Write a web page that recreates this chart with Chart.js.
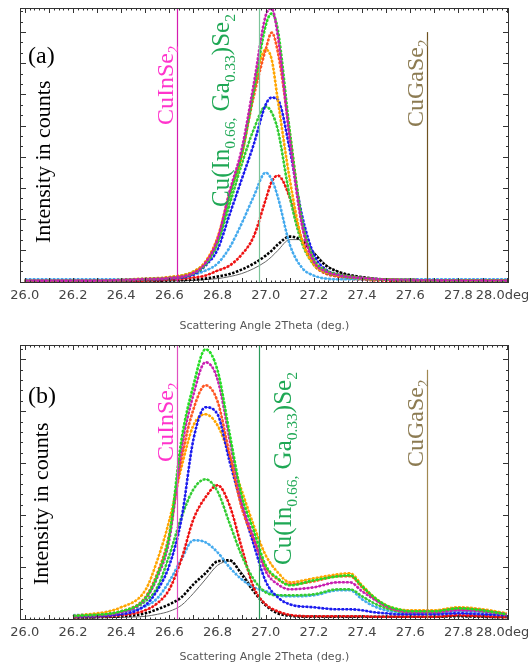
<!DOCTYPE html>
<html>
<head>
<meta charset="utf-8">
<script src="https://cdn.jsdelivr.net/npm/chart.js@4.4.1/dist/chart.umd.min.js"></script>
<style>
  html, body { margin: 0; padding: 0; background: #fff; }
  #wrap { position: relative; width: 528px; height: 666px; }
  #chartA { position: absolute; left: 0; top: 0; }
  #chartB { position: absolute; left: 0; top: 334px; }
</style>
</head>
<body>
<div id="wrap">
  <canvas id="chartA" width="528" height="334"></canvas>
  <canvas id="chartB" width="528" height="332"></canvas>
</div>
<script>
// --- data (intensity in arbitrary units) ---
const xTicks = [26.0, 26.2, 26.4, 26.6, 26.8, 27.0, 27.2, 27.4, 27.6, 27.8, 28.0];

// reference positions: CuInSe2, Cu(In0.66,Ga0.33)Se2, CuGaSe2
const refPositions = [26.63, 26.972, 27.67];
const refGaTop = 249.5;

// panel (a)
const xA = [26.0, 26.3, 26.5, 26.6, 26.7, 26.75, 26.8, 26.85, 26.9, 26.95, 27.0, 27.025, 27.05, 27.1, 27.15, 27.2, 27.25, 27.3, 27.35, 27.4, 27.5, 27.6, 28.0];
const magentaA   = [1, 1, 2.5, 3.5, 8.5, 18.5, 42, 90, 132, 197, 266, 273, 246, 142, 57, 20, 10, 6.5, 4.5, 3.5, 2, 1.5, 1];
const greenTopA  = [1, 1, 2.5, 3.5, 8, 17, 39, 85, 127, 190, 256, 268, 252, 150, 62, 22, 11, 7, 5, 3.5, 2, 1.5, 1];
const orangeRedA = [1, 1, 2.5, 4, 9, 19, 43, 88, 128, 185, 232, 249, 230, 148, 60, 22, 11, 7, 5, 3.5, 2, 1.5, 1];
const orangeA    = [1, 1, 3, 4.5, 10, 20, 44, 88, 125, 190, 232, 222, 182, 102, 42, 17, 9, 6, 4.5, 3, 2, 1.5, 1];
const blueA      = [1, 1, 2, 3, 7, 16, 32, 67, 102, 137, 177, 184, 182, 132, 67, 27, 12, 7, 5, 3.5, 2, 1.5, 1];
const greenLowA  = [1, 1, 2.5, 4, 10, 19, 39, 77, 117, 152, 175, 169, 152, 85, 39, 17, 9, 6, 4, 3, 2, 1.5, 1];
const lightBlueA = [2.3, 2.3, 2.5, 4, 7, 11, 18, 34, 58, 85, 109, 102, 85, 37, 14, 6, 3, 2.3, 2.3, 2.3, 2.3, 2.3, 2.3];
const redA       = [0.5, 0.5, 1, 2, 4, 6, 11, 16, 27, 45, 82, 100, 106, 84, 42, 17, 8, 5, 3, 2, 1, 1, 0.5];
const blackA     = [0.5, 0.5, 0.8, 1, 2, 3, 5, 7.6, 12, 18, 26, 31, 37, 45, 41, 28, 16, 10, 6.5, 4.5, 2, 1.5, 1];
const blackFitA  = [0.5, 0.5, 0.5, 0.8, 1.2, 2, 3, 5, 8, 13, 20, 25, 31, 42, 42, 30, 17, 10, 6.5, 4.5, 2, 1.5, 1];

// panel (b)
const xB = [26.2, 26.4, 26.5, 26.55, 26.6, 26.65, 26.7, 26.75, 26.8, 26.85, 26.9, 26.95, 27.0, 27.05, 27.1, 27.2, 27.3, 27.35, 27.4, 27.45, 27.5, 27.55, 27.6, 27.7, 27.8, 27.9, 28.0];
const greenTopB  = [3.3, 8, 21, 44, 84, 179, 234, 270, 249, 186, 124, 89, 54, 41, 34, 39, 43, 44, 33, 22, 14, 10, 8, 8, 11, 9, 5];
const magentaB   = [3, 7, 20, 42, 80, 170, 225, 257, 240, 180, 118, 82, 48, 35, 30, 32, 37, 37, 28, 20, 13, 9, 7, 7, 9, 8, 5];
const orangeRedB = [3, 8, 22, 46, 85, 160, 210, 234, 218, 165, 112, 80, 52, 40, 35, 38, 43, 43, 32, 21, 13, 9, 8, 8, 11, 9, 5];
const blueB      = [2.5, 5, 14, 29, 54, 100, 180, 212, 205, 158, 115, 75, 38, 22, 15, 12, 10, 10, 9, 7, 6, 5, 5, 5, 6, 5, 4];
const orangeB    = [3, 12, 29, 59, 99, 152, 194, 205, 194, 164, 129, 94, 64, 47, 37, 41, 45, 46, 34, 22, 14, 10, 9, 9, 12, 10, 6];
const greenLowB  = [3, 7, 18, 32, 64, 102, 130, 140, 128, 96, 64, 40, 27, 24, 24, 25, 30, 30, 23, 16, 11, 8, 7, 7, 10, 8, 5];
const redB       = [2, 4, 9, 16, 30, 60, 100, 122, 134, 114, 72, 32, 15, 8, 4.5, 3, 3, 3, 3, 2.5, 2.5, 2.5, 2.5, 2.5, 4, 3, 2];
const lightBlueB = [4, 7, 13, 21, 38, 60, 79, 77, 67, 52, 40, 32, 28, 24, 23, 24, 29, 29, 20, 13, 9, 7, 6, 6, 8, 7, 5];
const blackB     = [2, 3, 6, 10, 15, 22, 35, 46, 58, 59, 45, 28, 14, 6, 3.5, 2.5, 2.5, 2.5, 2.5, 2.5, 2.5, 2.5, 2.5, 2.5, 3, 2.5, 2];
const blackFitB  = [1, 2, 3, 5, 8, 14, 26, 40, 54, 58, 47, 30, 15, 7, 4, 3, 2.5, 2.5, 2.5, 2.5, 2.5, 2.5, 2.5, 2.5, 3, 2.5, 2];

const C = {
  magenta: '#c81eb0', greenTop: '#22dd22', orangeRed: '#ff5522', orange: '#ffa500',
  blue: '#1a1aee', greenLow: '#33cc33', lightBlue: '#44aaee', red: '#ee1111', black: '#000000'
};

const SERIF = '"Liberation Serif", "Times New Roman", serif';
const SANS = '"DejaVu Sans", sans-serif';

const pts = (xs, ys) => xs.map((x, i) => ({ x: x, y: ys[i] }));

function drawText(ctx, parts, x, y, size, color, rotate) {
  ctx.save();
  ctx.translate(x, y);
  if (rotate) ctx.rotate(-Math.PI / 2);
  ctx.fillStyle = color;
  ctx.textBaseline = 'alphabetic';
  ctx.textAlign = 'left';
  let cx = 0;
  parts.forEach(p => {
    const sub = p[1];
    ctx.font = (sub ? size * 0.62 : size) + 'px ' + SERIF;
    ctx.fillText(p[0], cx, sub ? size * 0.22 : 0);
    cx += ctx.measureText(p[0]).width;
  });
  ctx.restore();
}

const decorPlugin = {
  id: 'decor',
  afterDatasetsDraw(chart, args, o) {
    const ctx = chart.ctx, a = chart.chartArea;
    const xs = chart.scales.x, ys = chart.scales.y;
    ctx.save();

    // reference lines
    refPositions.forEach((v, i) => {
      const px = Math.round(xs.getPixelForValue(v)) + 0.5;
      const top = i === 2 ? ys.getPixelForValue(refGaTop) : a.top;
      ctx.strokeStyle = o.lineColors[i];
      ctx.lineWidth = 1.2;
      ctx.beginPath();
      ctx.moveTo(px, top);
      ctx.lineTo(px, a.bottom);
      ctx.stroke();
    });

    // frame
    ctx.strokeStyle = '#333';
    ctx.lineWidth = 1;
    ctx.strokeRect(Math.round(a.left) + 0.5, Math.round(a.top) + 0.5,
      Math.round(a.right - a.left) - 1, Math.round(a.bottom - a.top) - 1);

    // x ticks, pointing inwards, top and bottom
    ctx.beginPath();
    for (let k = 0; k <= 100; k++) {
      const px = Math.round(xs.getPixelForValue(26 + k * 0.02)) + 0.5;
      const len = k % 5 === 0 ? 5 : 2.5;
      ctx.moveTo(px, a.top);
      ctx.lineTo(px, a.top + len);
      ctx.moveTo(px, a.bottom);
      ctx.lineTo(px, a.bottom - len);
    }
    // y ticks, left and right
    for (let k = 0; ; k++) {
      const v = k * o.yMinor;
      if (v > ys.max) break;
      const py = Math.round(ys.getPixelForValue(v)) + 0.5;
      const len = k % o.yMajorEvery === 0 ? 6 : 3;
      ctx.moveTo(a.left, py);
      ctx.lineTo(a.left + len, py);
      ctx.moveTo(a.right, py);
      ctx.lineTo(a.right - len, py);
    }
    ctx.stroke();

    // labels
    o.labels.forEach(l => drawText(ctx, l.t, l.x, l.y, l.size, l.color, l.rot));
    ctx.restore();
  }
};

const TXT_IN = [['CuInSe'], ['2', true]];
const TXT_MID = [['Cu(In'], ['0.66,', true], [' Ga'], ['0.33', true], [')Se'], ['2', true]];
const TXT_GA = [['CuGaSe'], ['2', true]];
const COL_IN = '#ff33cc', COL_MID = '#1fa855', COL_GA = '#8c7b52';

function makeChart(id, xs, series, cfg) {
  const datasets = [];
  series.forEach(s => {
    datasets.push({
      data: pts(xs, s.data), borderColor: s.color, borderWidth: 2.6,
      borderDash: [2.5, 1.5]
    });
    datasets.push({
      data: pts(xs, s.fit || s.data), borderColor: s.fitColor || s.color, borderWidth: 1
    });
  });

  return new Chart(document.getElementById(id).getContext('2d'), {
    type: 'line',
    data: { datasets: datasets },
    plugins: [decorPlugin],
    options: {
      responsive: false,
      animation: false,
      devicePixelRatio: 1,
      layout: { padding: { left: 20, right: 19, top: cfg.top, bottom: 0 } },
      elements: {
        point: { radius: 0, hoverRadius: 0 },
        line: { cubicInterpolationMode: 'monotone', fill: false }
      },
      plugins: {
        legend: { display: false },
        tooltip: { enabled: false },
        decor: cfg.decor
      },
      scales: {
        x: {
          type: 'linear', min: 25.98, max: 28.01,
          afterBuildTicks: s => { s.ticks = xTicks.map(v => ({ value: v })); },
          afterFit: s => { s.height = cfg.axisHeight; s.paddingLeft = 0; s.paddingRight = 0; },
          grid: { display: false, drawTicks: false },
          border: { display: false },
          ticks: {
            color: '#444', font: { family: SANS, size: 13 },
            padding: 4.5, maxRotation: 0, autoSkip: false,
            // trailing spaces pull the last label back inside the page
            callback: v => v === 28 ? '28.0deg  ' : v.toFixed(1)
          },
          title: {
            display: true, text: 'Scattering Angle 2Theta (deg.)', color: '#555',
            font: { family: SANS, size: 11 }, padding: { top: 4, bottom: cfg.titlePad }
          }
        },
        y: { display: false, min: cfg.yMin, max: cfg.yMax }
      }
    }
  });
}

makeChart('chartA', xA, [
  { data: magentaA, color: C.magenta },
  { data: greenTopA, color: C.greenTop },
  { data: orangeRedA, color: C.orangeRed },
  { data: orangeA, color: C.orange },
  { data: blueA, color: C.blue },
  { data: greenLowA, color: C.greenLow },
  { data: lightBlueA, color: C.lightBlue },
  { data: redA, color: C.red },
  { data: blackA, color: C.black, fit: blackFitA, fitColor: '#666' }
], {
  top: 8, axisHeight: 51, titlePad: 1.5, yMin: -1.4, yMax: 273.6,
  decor: {
    lineColors: ['#d41cb0', '#7cc49a', '#6e5220'],
    yMinor: 10.4, yMajorEvery: 3,
    labels: [
      { t: [['(a)']], x: 28, y: 63, size: 24, color: '#000', rot: false },
      { t: [['Intensity in counts']], x: 50, y: 243, size: 22, color: '#000', rot: true },
      { t: TXT_IN, x: 173, y: 125, size: 24, color: COL_IN, rot: true },
      { t: TXT_MID, x: 229, y: 207, size: 25, color: COL_MID, rot: true },
      { t: TXT_GA, x: 423, y: 127, size: 24, color: COL_GA, rot: true }
    ]
  }
});

makeChart('chartB', xB, [
  { data: greenTopB, color: C.greenTop },
  { data: magentaB, color: C.magenta },
  { data: orangeRedB, color: C.orangeRed },
  { data: blueB, color: C.blue },
  { data: orangeB, color: C.orange },
  { data: greenLowB, color: C.greenLow },
  { data: redB, color: C.red },
  { data: lightBlueB, color: C.lightBlue },
  { data: blackB, color: C.black, fit: blackFitB, fitColor: '#666' }
], {
  top: 11, axisHeight: 46, titlePad: 2.5, yMin: -0.7, yMax: 274.3,
  decor: {
    lineColors: ['#e050c0', '#2a9a5a', '#a08850'],
    yMinor: 10.4, yMajorEvery: 5,
    labels: [
      { t: [['(b)']], x: 28, y: 69, size: 24, color: '#000', rot: false },
      { t: [['Intensity in counts']], x: 48, y: 251, size: 22, color: '#000', rot: true },
      { t: TXT_IN, x: 172.5, y: 128, size: 24, color: COL_IN, rot: true },
      { t: TXT_MID, x: 291, y: 231, size: 25, color: COL_MID, rot: true },
      { t: TXT_GA, x: 423, y: 133, size: 24, color: COL_GA, rot: true }
    ]
  }
});
</script>
</body>
</html>
